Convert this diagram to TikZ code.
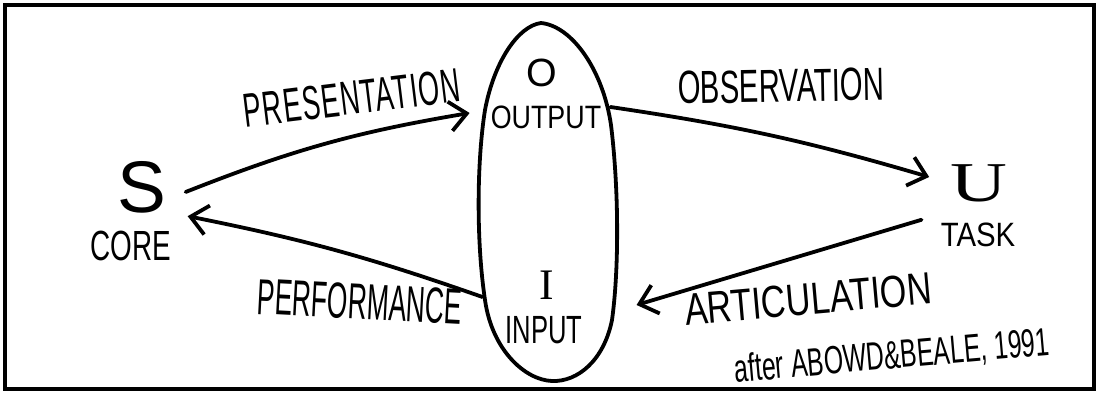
\documentclass[tikz,border=0pt]{standalone}
\usepackage{fontspec}
\setmainfont{Liberation Sans}
\newfontfamily\serifmain{Liberation Serif}
\newfontfamily\espace[LetterSpace=4.0]{Liberation Sans}
\usetikzlibrary{arrows.meta}
\newcommand{\taille}[1]{\fontsize{#1}{#1}\selectfont}

\begin{document}
\begin{tikzpicture}[x=0.025cm, y=-0.025cm,
    fleche/.style={line width=2.7pt, line cap=round, line join=round,
      -{Straight Barb[length=12pt,width=21pt]}},
    texte/.style={inner sep=0pt}]
                % Cadre
                \useasboundingbox (0,0) rectangle (1099,394);
                \draw[line width=2.4pt] (5,5) rectangle (1094,389);

                % Ovale central (entrée / sortie)
                \draw[line width=2.7pt, line join=round]
                    (541,23) .. controls (572,26) and (603,70) .. (611,125)
                    .. controls (619,190) and (619,270) .. (612,320)
                    .. controls (604,360) and (578,382) .. (552,381)
                    .. controls (525,380) and (492,350) .. (485,300)
                    .. controls (476,240) and (477,160) .. (485,110)
                    .. controls (494,62) and (518,26) .. (541,23) -- cycle;

                % Sommets
                \node[texte, font=\taille{52}] (S) at (142,187) {S};
                \node[texte, font=\taille{30}, xscale=0.66] (core) at (131,246) {CORE};
                \node[texte, font=\serifmain\taille{40}, xscale=1.4] (U) at (979,183) {U};
                \node[texte, font=\taille{24}, xscale=0.87] (task) at (978,235) {TASK};
                \node[texte, font=\taille{28}] (O) at (542,73) {O};
                \node[texte, font=\taille{23}, xscale=0.83] (out) at (546,117) {OUTPUT};
                \node[texte, font=\serifmain\taille{31}] (I) at (547,285) {I};
                \node[texte, font=\taille{28}, xscale=0.65] (in) at (544,330) {INPUT};

                % Flèches
                \draw[fleche] ([shift={(19,5)}]S.east) to[bend left=6] ([shift={(-21,-4)}]out.west);
                \draw[fleche] ([shift={(9,-10)}]out.east) to[bend left=4] ([shift={(-21,-6)}]U.west);
                \draw[fleche] ([shift={(-19,-3)}]task.north west) -- ([shift={(54,-11)}]in.north east);
                \draw[fleche] ([shift={(-23,-19)}]in.north west) to[bend right=4] ([shift={(21,3)}]S.south east);

                % Étiquettes
                \node[texte, font=\espace\taille{34}, rotate=7, xscale=0.565] (pres) at (352,98) {PRESENTATION};
                \node[texte, font=\taille{33}, rotate=1, xscale=0.63] (obs) at (781,86) {OBSERVATION};
                \node[texte, font=\taille{36}, rotate=-3, xscale=0.52] (perf) at (360,302) {PERFORMANCE};
                \node[texte, font=\taille{32}, rotate=5, xscale=0.76] (art) at (808,299) {ARTICULATION};
                \node[texte, font=\taille{28}, rotate=5, xscale=0.63] (ref) at (892,357) {after ABOWD\&BEALE, 1991};
\end{tikzpicture}
\end{document}
